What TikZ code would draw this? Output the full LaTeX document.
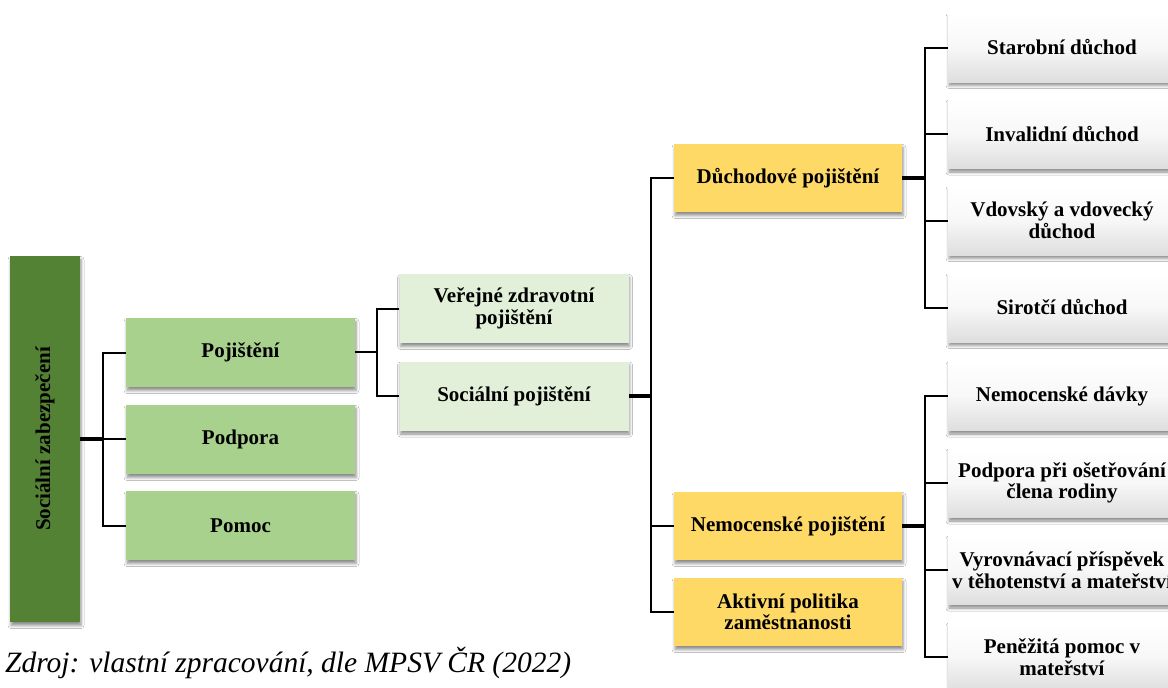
\documentclass[tikz,border=0pt]{standalone}
\usepackage{fontspec}
\setmainfont{Liberation Serif}
\usetikzlibrary{shadows,shadows.blur}
\definecolor{rootgreen}{HTML}{548235}
\definecolor{midgreen}{HTML}{A9D18E}
\definecolor{palegreen}{HTML}{E2F0D9}
\definecolor{gold}{HTML}{FFD966}
\tikzset{
  box/.style={draw=none, minimum height=69pt, minimum width=229pt, align=center,
    font=\fontsize{21}{21.5}\selectfont\bfseries, inner sep=2pt,
    blur shadow={shadow xshift=1pt, shadow yshift=-3.5pt, shadow blur radius=3pt, shadow opacity=45}},
  lvlone/.style={box, fill=midgreen},
  lvltwo/.style={box, fill=palegreen},
  lvlthree/.style={box, fill=gold, minimum height=68pt, minimum width=228pt},
  leafbox/.style={box, top color=white, bottom color=black!13, middle color=white!97!black, minimum width=228pt, minimum height=69pt},
  conn/.style={line width=2pt, black},
  thickconn/.style={line width=4pt, black},
}
\begin{document}
\begin{tikzpicture}[x=1pt, y=-1pt]
\path[use as bounding box, clip] (0,0) rectangle (1168,688);
\fill[white] (0,0) rectangle (1168,688);

% root
\node[box, fill=rootgreen, minimum width=70pt, minimum height=366pt] (root) at (45,439) {};
\node[rotate=90, font=\fontsize{21}{21.5}\selectfont\bfseries] (roottext) at (root.center) {Sociální zabezpečení};

% level 1
\node[lvlone] (poj) at (240.5,352.5) {Pojištění};
\node[lvlone] (podp) at (240.5,439.5) {Podpora};
\node[lvlone] (pomoc) at (240.5,525.5) {Pomoc};

% level 2
\node[lvltwo] (vzp) at (514,308.5) {Veřejné zdravotní\\pojištění};
\node[lvltwo] (socp) at (514,396) {Sociální pojištění};

% level 3
\node[lvlthree] (duch) at (788,178) {Důchodové pojištění};
\node[lvlthree] (nemp) at (788,526) {Nemocenské pojištění};
\node[lvlthree] (apz) at (788,612) {Aktivní politika\\zaměstnanosti};

% leaves
\node[leafbox] (l1) at (1062,47.5) {Starobní důchod};
\node[leafbox] (l2) at (1062,134) {Invalidní důchod};
\node[leafbox] (l3) at (1062,220.5) {Vdovský a vdovecký\\důchod};
\node[leafbox] (l4) at (1062,307.5) {Sirotčí důchod};
\node[leafbox] (l5) at (1062,396) {Nemocenské dávky};
\node[leafbox] (l6) at (1062,483) {Podpora při ošetřování\\člena rodiny};
\node[leafbox] (l7) at (1062,570) {Vyrovnávací příspěvek\\v těhotenství a mateřství};
\node[leafbox] (l8) at (1062,657) {Peněžitá pomoc v\\mateřství};

% bus coordinates
\coordinate (b1) at (103,439);
\coordinate (b2) at (377,352);
\coordinate (b3) at (651,396);
\coordinate (b4) at (925,178);
\coordinate (b5) at (925,526);

% connectors
\draw[thickconn] (root.east |- b1) -- (b1);
\draw[conn] (poj.west) -| (b1) |- (pomoc.west);
\draw[conn] (b1) -- (podp.west |- b1);

\draw[conn] (poj.east |- b2) -- (b2);
\draw[conn] (vzp.west) -| (b2) |- (socp.west);

\draw[thickconn] (socp.east |- b3) -- (b3);
\draw[conn] (duch.west) -| (b3) |- (apz.west);
\draw[conn] (b3) |- (nemp.west);

\draw[thickconn] (duch.east) -- (b4);
\draw[conn] (l1.west) -| (b4) |- (l4.west);
\draw[conn] (l2.west) -| (b4) |- (l3.west);

\draw[thickconn] (nemp.east) -- (b5);
\draw[conn] (l5.west) -| (b5) |- (l8.west);
\draw[conn] (l6.west) -| (b5) |- (l7.west);

% caption
\node[anchor=base west, inner sep=0pt, font=\fontsize{29.5}{32}\selectfont\itshape] (caption) at (5,672) {Zdroj: vlastní zpracování, dle MPSV ČR (2022)};
\end{tikzpicture}
\end{document}
